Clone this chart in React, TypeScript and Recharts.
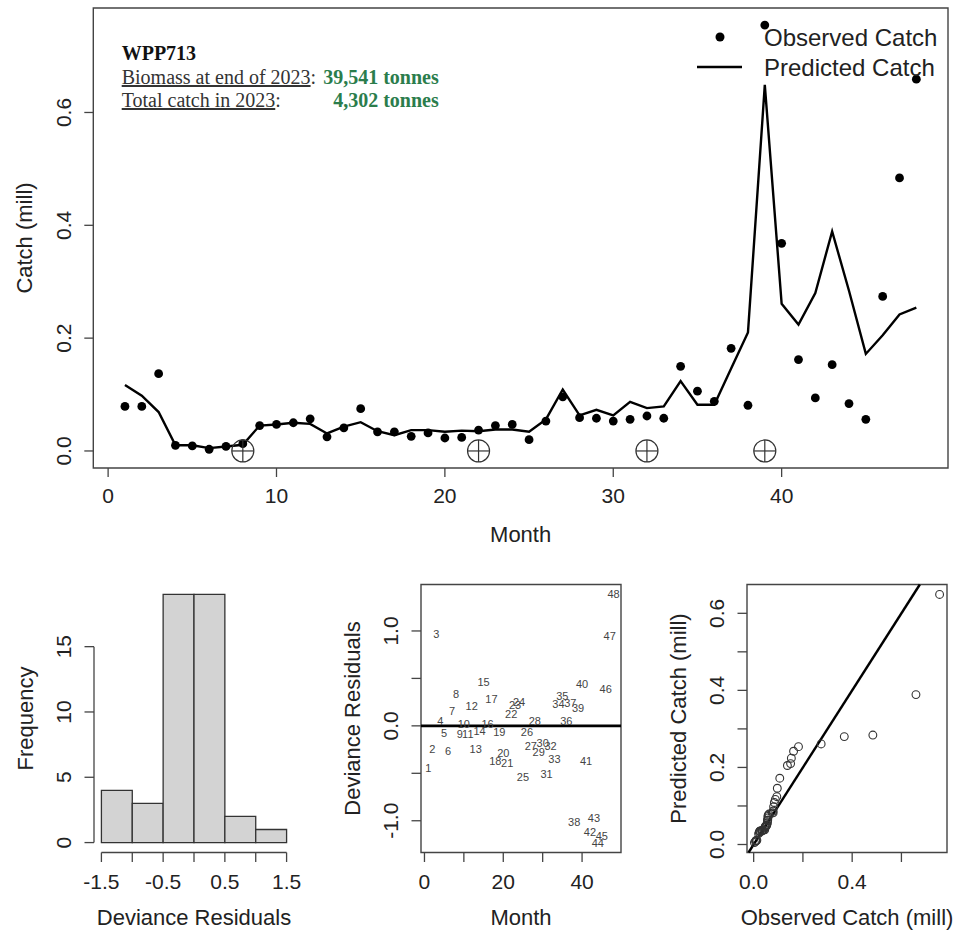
import React from "react";
import {
  ComposedChart,
  Line,
  Scatter,
  XAxis,
  YAxis,
  ReferenceArea,
  ReferenceLine,
  Legend,
  Label,
} from "recharts";

// monthly catch (millions) for WPP713
const months = [
  1, 2, 3, 4, 5, 6, 7, 8, 9, 10, 11, 12, 13, 14, 15, 16, 17, 18, 19, 20, 21, 22, 23, 24,
  25, 26, 27, 28, 29, 30, 31, 32, 33, 34, 35, 36, 37, 38, 39, 40, 41, 42, 43, 44, 45, 46, 47, 48,
];
const observedCatch = [
  0.079, 0.079, 0.137, 0.01, 0.009, 0.003, 0.008, 0.013, 0.045, 0.047, 0.05, 0.057,
  0.025, 0.041, 0.075, 0.034, 0.034, 0.026, 0.032, 0.023, 0.024, 0.037, 0.045, 0.047,
  0.02, 0.053, 0.096, 0.059, 0.058, 0.053, 0.056, 0.062, 0.058, 0.15, 0.106, 0.088,
  0.182, 0.081, 0.755, 0.368, 0.162, 0.094, 0.153, 0.084, 0.056, 0.274, 0.484, 0.659,
];
const predictedCatch = [
  0.117, 0.098, 0.069, 0.01, 0.01, 0.005, 0.008, 0.011, 0.045, 0.047, 0.05, 0.048,
  0.031, 0.043, 0.051, 0.035, 0.028, 0.037, 0.037, 0.034, 0.036, 0.035, 0.038, 0.038,
  0.034, 0.056, 0.109, 0.063, 0.073, 0.063, 0.087, 0.076, 0.079, 0.124, 0.082, 0.082,
  0.146, 0.21, 0.649, 0.261, 0.224, 0.28, 0.389, 0.284, 0.172, 0.205, 0.242, 0.254,
];
const devianceResiduals = [
  -0.44, -0.245, 0.965, 0.05, -0.08, -0.27, 0.155, 0.34, -0.09, 0.02, -0.09, 0.21,
  -0.24, -0.05, 0.46, 0.02, 0.28, -0.37, -0.07, -0.29, -0.39, 0.12, 0.22, 0.25,
  -0.54, -0.07, -0.21, 0.05, -0.28, -0.185, -0.51, -0.21, -0.35, 0.235, 0.315, 0.05,
  0.245, -1.01, 0.19, 0.44, -0.37, -1.115, -0.975, -1.23, -1.16, 0.385, 0.945, 1.385,
];
// months marked with a crossed circle on the baseline
const flaggedMonths = [8, 22, 32, 39];
const residualBreaks = [-1.5, -1, -0.5, 0, 0.5, 1, 1.5];

const stockName = "WPP713";
const biomassText = "39,541 tonnes";
const totalCatchText = "4,302 tonnes";

const SANS = '"Liberation Sans", Arial, sans-serif';
const SERIF = '"Liberation Serif", "Times New Roman", serif';
const INK = "#222";
const AXIS = "#444";
const GREEN = "#2b7d4c";

// base-graphics style range: data range stretched by 4% on each side
const expand = (values: number[]): [number, number] => {
  const lo = Math.min(...values);
  const hi = Math.max(...values);
  const d = (hi - lo) * 0.04;
  return [lo - d, hi + d];
};

const catchRows = months.map((m, i) => ({
  month: m,
  obs: observedCatch[i],
  pred: predictedCatch[i],
}));
const flaggedRows = flaggedMonths.map((m) => ({ month: m, base: 0 }));
const residualRows = months.map((m, i) => ({ month: m, resid: devianceResiduals[i] }));

const obsSorted = [...observedCatch].sort((a, b) => a - b);
const predSorted = [...predictedCatch].sort((a, b) => a - b);
const qqRows = obsSorted.map((o, i) => ({ obs: o, pred: predSorted[i] }));

const histBins = residualBreaks.slice(0, -1).map((lo, i) => {
  const hi = residualBreaks[i + 1];
  return { lo, hi, count: devianceResiduals.filter((r) => r > lo && r <= hi).length };
});

const monthDomain = expand(months);
const catchDomain = expand([0, ...observedCatch, ...predictedCatch]);
const residDomain = expand(devianceResiduals);
const obsDomain = expand(observedCatch);
const predDomain = expand(predictedCatch);
const histXDomain = expand(residualBreaks);
const histYDomain = expand([0, ...histBins.map((b) => b.count)]);

const bottomTick = (shown: number[], digits: number) => (p: any) =>
  shown.includes(p.payload.value) ? (
    <text
      x={p.x}
      y={p.y}
      textAnchor="middle"
      dominantBaseline="central"
      fontSize={21}
      fontFamily={SANS}
      fill={INK}
    >
      {p.payload.value.toFixed(digits)}
    </text>
  ) : (
    <g />
  );

const leftTick = (shown: number[], digits: number) => (p: any) =>
  shown.includes(p.payload.value) ? (
    <text
      x={p.x}
      y={p.y}
      transform={`rotate(-90 ${p.x} ${p.y})`}
      textAnchor="middle"
      dominantBaseline="central"
      fontSize={21}
      fontFamily={SANS}
      fill={INK}
    >
      {p.payload.value.toFixed(digits)}
    </text>
  ) : (
    <g />
  );

const xTitle = (text: string, gap: number) => (props: any) => {
  const { x, y, width } = props.viewBox;
  return (
    <text
      x={x + width / 2}
      y={y + gap}
      textAnchor="middle"
      dominantBaseline="central"
      fontSize={22}
      fontFamily={SANS}
      fill={INK}
    >
      {text}
    </text>
  );
};

const yTitle = (text: string) => (props: any) => {
  const { x, y, width, height } = props.viewBox;
  const cx = x + width - 68.5;
  const cy = y + height / 2;
  return (
    <text
      x={cx}
      y={cy}
      transform={`rotate(-90 ${cx} ${cy})`}
      textAnchor="middle"
      dominantBaseline="central"
      fontSize={22}
      fontFamily={SANS}
      fill={INK}
    >
      {text}
    </text>
  );
};

const Dot = (p: any) => <circle cx={p.cx} cy={p.cy} r={4.4} fill="#000" />;
const OpenDot = (p: any) => (
  <circle cx={p.cx} cy={p.cy} r={3.9} fill="none" stroke="#333" strokeWidth={1.1} />
);
const CrossedCircle = (p: any) => (
  <g stroke="#333" strokeWidth={1.2} fill="none">
    <circle cx={p.cx} cy={p.cy} r={11} />
    <line x1={p.cx - 11} x2={p.cx + 11} y1={p.cy} y2={p.cy} />
    <line x1={p.cx} x2={p.cx} y1={p.cy - 11} y2={p.cy + 11} />
  </g>
);
const MonthLabel = (p: any) => (
  <text
    x={p.cx}
    y={p.cy}
    textAnchor="middle"
    dominantBaseline="central"
    fontSize={11}
    fontFamily={SANS}
    fill="#444"
  >
    {p.payload.month}
  </text>
);
// bin tops are carried by an invisible scatter so the count axis has data
const NoMark = () => <g />;

const CatchLegend = () => (
  <svg width={262} height={62} style={{ display: "block" }}>
    <circle cx={30} cy={17} r={4.5} fill="#000" />
    <line x1={7} x2={52} y1={47} y2={47} stroke="#000" strokeWidth={2.4} />
    <text x={74} y={17} dominantBaseline="central" fontSize={24} fontFamily={SANS} fill={INK}>
      Observed Catch
    </text>
    <text x={74} y={47} dominantBaseline="central" fontSize={24} fontFamily={SANS} fill={INK}>
      Predicted Catch
    </text>
  </svg>
);

const tickLine = { stroke: AXIS, strokeWidth: 1.3 };

const panelMargin = { top: 24.5, right: 10, bottom: 9.5, left: 0 };

const App = () => {
  return (
    <div
      style={{
        position: "absolute",
        left: 0,
        top: 0,
        width: 958,
        height: 932,
        background: "#fff",
        fontFamily: SANS,
      }}
    >
      {/* observed vs predicted catch by month */}
      <div style={{ position: "absolute", left: 0, top: 0 }}>
        <ComposedChart
          width={958}
          height={560}
          data={catchRows}
          margin={{ top: 8, right: 10, bottom: 12, left: 7.3 }}
        >
          <XAxis
            type="number"
            dataKey="month"
            domain={monthDomain}
            ticks={[0, 10, 20, 30, 40]}
            tick={bottomTick([0, 10, 20, 30, 40], 0)}
            tickSize={9}
            tickMargin={18}
            tickLine={tickLine}
            axisLine={false}
            height={80}
          >
            <Label content={xTitle("Month", 66)} />
          </XAxis>
          <YAxis
            type="number"
            domain={catchDomain}
            ticks={[0, 0.2, 0.4, 0.6]}
            tick={leftTick([0, 0.2, 0.4, 0.6], 1)}
            tickSize={9}
            tickMargin={21}
            tickLine={tickLine}
            axisLine={false}
            width={86}
          >
            <Label content={yTitle("Catch (mill)")} />
          </YAxis>
          <ReferenceArea
            x1={monthDomain[0]}
            x2={monthDomain[1]}
            y1={catchDomain[0]}
            y2={catchDomain[1]}
            fill="none"
            stroke={AXIS}
            strokeWidth={1.4}
            ifOverflow="visible"
          />
          <Line
            type="linear"
            dataKey="pred"
            stroke="#000"
            strokeWidth={2.4}
            dot={false}
            isAnimationActive={false}
          />
          <Scatter data={catchRows} dataKey="obs" shape={Dot} isAnimationActive={false} />
          <Scatter
            data={flaggedRows}
            dataKey="base"
            shape={CrossedCircle}
            isAnimationActive={false}
          />
          <Legend
            layout="vertical"
            align="center"
            verticalAlign="middle"
            wrapperStyle={{ left: 690, top: 20, width: 262, height: 62 }}
            content={CatchLegend}
          />
        </ComposedChart>
      </div>

      <div
        style={{
          position: "absolute",
          left: 121.7,
          top: 42.2,
          fontFamily: SERIF,
          fontSize: 20,
          lineHeight: "23.5px",
          color: "#333",
          pointerEvents: "none",
        }}
      >
        <div style={{ fontWeight: "bold", color: "#111" }}>{stockName}</div>
        <div style={{ display: "grid", gridTemplateColumns: "auto auto", columnGap: 7 }}>
          <span>
            <span style={{ textDecoration: "underline" }}>Biomass at end of 2023</span>:
          </span>
          <span style={{ textAlign: "right", fontWeight: "bold", color: GREEN }}>
            {biomassText}
          </span>
          <span>
            <span style={{ textDecoration: "underline" }}>Total catch in 2023</span>:
          </span>
          <span style={{ textAlign: "right", fontWeight: "bold", color: GREEN }}>
            {totalCatchText}
          </span>
        </div>
      </div>

      {/* histogram of deviance residuals */}
      <div style={{ position: "absolute", left: 3.6, top: 560 }}>
        <ComposedChart width={300} height={372} data={histBins} margin={panelMargin}>
          <XAxis
            type="number"
            dataKey="lo"
            domain={histXDomain}
            ticks={residualBreaks}
            tick={bottomTick([-1.5, -0.5, 0.5, 1.5], 1)}
            tickSize={9.5}
            tickMargin={19}
            tickLine={tickLine}
            axisLine={false}
            height={70}
          >
            <Label content={xTitle("Deviance Residuals", 65)} />
          </XAxis>
          <YAxis
            type="number"
            dataKey="count"
            domain={histYDomain}
            ticks={[0, 5, 10, 15]}
            tick={leftTick([0, 5, 10, 15], 0)}
            tickSize={9.5}
            tickMargin={21}
            tickLine={tickLine}
            axisLine={false}
            width={90}
          >
            <Label content={yTitle("Frequency")} />
          </YAxis>
          {histBins.map((b) => (
            <ReferenceArea
              key={b.lo}
              x1={b.lo}
              x2={b.hi}
              y1={0}
              y2={b.count}
              fill="#d3d3d3"
              fillOpacity={1}
              stroke="#333"
              strokeWidth={1.3}
              ifOverflow="visible"
            />
          ))}
          <ReferenceLine
            segment={[
              { x: residualBreaks[0], y: histYDomain[0] },
              { x: residualBreaks[residualBreaks.length - 1], y: histYDomain[0] },
            ]}
            stroke={AXIS}
            strokeWidth={1.3}
            ifOverflow="visible"
          />
          <ReferenceLine
            segment={[
              { x: histXDomain[0], y: 0 },
              { x: histXDomain[0], y: 15 },
            ]}
            stroke={AXIS}
            strokeWidth={1.3}
            ifOverflow="visible"
          />
          <Scatter data={histBins} dataKey="count" shape={NoMark} isAnimationActive={false} />
        </ComposedChart>
      </div>

      {/* residuals by month, labelled with the month number */}
      <div style={{ position: "absolute", left: 330.6, top: 560 }}>
        <ComposedChart width={300} height={372} data={residualRows} margin={panelMargin}>
          <XAxis
            type="number"
            dataKey="month"
            domain={monthDomain}
            ticks={[0, 10, 20, 30, 40]}
            tick={bottomTick([0, 20, 40], 0)}
            tickSize={9.5}
            tickMargin={19}
            tickLine={tickLine}
            axisLine={false}
            height={70}
          >
            <Label content={xTitle("Month", 65)} />
          </XAxis>
          <YAxis
            type="number"
            domain={residDomain}
            ticks={[-1, -0.5, 0, 0.5, 1]}
            tick={leftTick([-1, 0, 1], 1)}
            tickSize={9.5}
            tickMargin={21}
            tickLine={tickLine}
            axisLine={false}
            width={90}
          >
            <Label content={yTitle("Deviance Residuals")} />
          </YAxis>
          <ReferenceArea
            x1={monthDomain[0]}
            x2={monthDomain[1]}
            y1={residDomain[0]}
            y2={residDomain[1]}
            fill="none"
            stroke={AXIS}
            strokeWidth={1.4}
            ifOverflow="visible"
          />
          <ReferenceLine y={0} stroke="#000" strokeWidth={2.6} />
          <Scatter
            data={residualRows}
            dataKey="resid"
            shape={MonthLabel}
            isAnimationActive={false}
          />
        </ComposedChart>
      </div>

      {/* sorted observed vs sorted predicted catch */}
      <div style={{ position: "absolute", left: 657.3, top: 560 }}>
        <ComposedChart width={300} height={372} data={qqRows} margin={panelMargin}>
          <XAxis
            type="number"
            dataKey="obs"
            domain={obsDomain}
            ticks={[0, 0.2, 0.4, 0.6]}
            tick={bottomTick([0, 0.4], 1)}
            tickSize={9.5}
            tickMargin={19}
            tickLine={tickLine}
            axisLine={false}
            height={70}
          >
            <Label content={xTitle("Observed Catch (mill)", 65)} />
          </XAxis>
          <YAxis
            type="number"
            domain={predDomain}
            ticks={[0, 0.1, 0.2, 0.3, 0.4, 0.5, 0.6]}
            tick={leftTick([0, 0.2, 0.4, 0.6], 1)}
            tickSize={9.5}
            tickMargin={21}
            tickLine={tickLine}
            axisLine={false}
            width={90}
          >
            <Label content={yTitle("Predicted Catch (mill)")} />
          </YAxis>
          <ReferenceArea
            x1={obsDomain[0]}
            x2={obsDomain[1]}
            y1={predDomain[0]}
            y2={predDomain[1]}
            fill="none"
            stroke={AXIS}
            strokeWidth={1.4}
            ifOverflow="visible"
          />
          {/* 1:1 line clipped to the panel */}
          <ReferenceLine
            segment={[
              { x: Math.max(obsDomain[0], predDomain[0]), y: Math.max(obsDomain[0], predDomain[0]) },
              { x: Math.min(obsDomain[1], predDomain[1]), y: Math.min(obsDomain[1], predDomain[1]) },
            ]}
            stroke="#000"
            strokeWidth={2.4}
            ifOverflow="visible"
          />
          <Scatter data={qqRows} dataKey="pred" shape={OpenDot} isAnimationActive={false} />
        </ComposedChart>
      </div>
    </div>
  );
};

export default App;
